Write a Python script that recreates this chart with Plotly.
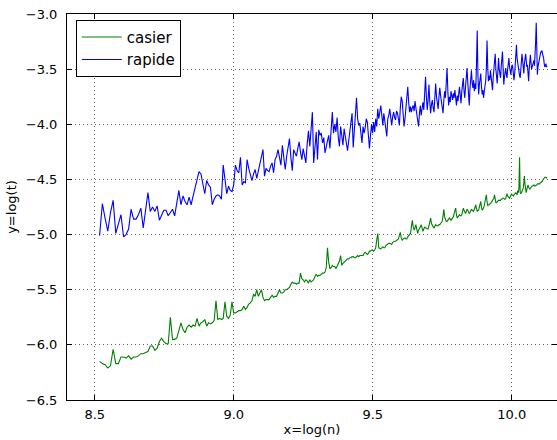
import numpy as np
import plotly.graph_objects as go

# n goes from 5000 to 25000 in steps of 50; x = log(n)
n_values = list(range(5000, 25001, 50))

casier = [
    -6.15,-6.17,-6.18,-6.21,-6.19,-6.04,-6.17,-6.17,-6.11,-6.11,
    -6.12,-6.10,-6.13,-6.11,-6.11,-6.10,-6.08,-6.08,-6.07,-6.06,
    -6.01,-6.01,-6.05,-6.03,-5.97,-5.94,-5.97,-5.99,-5.99,-5.75,
    -5.95,-5.95,-5.94,-5.88,-5.80,-5.86,-5.89,-5.84,-5.82,-5.84,
    -5.82,-5.83,-5.76,-5.83,-5.80,-5.79,-5.77,-5.83,-5.80,-5.81,
    -5.80,-5.78,-5.60,-5.77,-5.76,-5.77,-5.76,-5.61,-5.74,-5.76,
    -5.73,-5.61,-5.71,-5.71,-5.70,-5.69,-5.69,-5.68,-5.65,-5.68,
    -5.66,-5.63,-5.62,-5.60,-5.54,-5.56,-5.50,-5.56,-5.53,-5.50,
    -5.57,-5.60,-5.59,-5.59,-5.59,-5.57,-5.55,-5.57,-5.56,-5.56,
    -5.53,-5.50,-5.53,-5.53,-5.52,-5.50,-5.50,-5.49,-5.48,-5.45,
    -5.43,-5.44,-5.44,-5.45,-5.44,-5.44,-5.35,-5.40,-5.41,-5.43,
    -5.41,-5.42,-5.44,-5.41,-5.43,-5.42,-5.41,-5.38,-5.36,-5.38,
    -5.37,-5.37,-5.36,-5.35,-5.35,-5.34,-5.30,-5.12,-5.25,-5.31,
    -5.30,-5.28,-5.29,-5.29,-5.31,-5.29,-5.26,-5.24,-5.19,-5.28,
    -5.26,-5.25,-5.24,-5.23,-5.22,-5.22,-5.21,-5.21,-5.20,-5.20,
    -5.21,-5.21,-5.20,-5.19,-5.20,-5.19,-5.19,-5.19,-5.19,-5.17,
    -5.16,-5.17,-5.18,-5.17,-5.15,-5.15,-5.14,-5.14,-5.15,-5.14,
    -5.12,-5.05,-4.99,-5.12,-5.13,-5.13,-5.12,-5.11,-5.12,-5.12,
    -5.10,-5.09,-5.09,-5.08,-5.08,-5.09,-5.09,-5.07,-5.06,-5.06,
    -5.06,-5.05,-5.04,-5.04,-5.01,-4.98,-5.03,-5.05,-5.04,-5.03,
    -5.03,-5.04,-5.04,-5.02,-5.01,-5.00,-4.99,-4.93,-4.87,-4.93,
    -4.96,-4.94,-4.91,-4.95,-4.99,-4.96,-4.95,-4.93,-4.91,-4.94,
    -4.97,-4.95,-4.93,-4.94,-4.94,-4.95,-4.95,-4.92,-4.88,-4.85,
    -4.90,-4.92,-4.93,-4.94,-4.93,-4.91,-4.92,-4.92,-4.92,-4.91,
    -4.91,-4.90,-4.89,-4.88,-4.83,-4.77,-4.84,-4.87,-4.88,-4.88,
    -4.87,-4.86,-4.85,-4.86,-4.87,-4.86,-4.85,-4.84,-4.81,-4.78,
    -4.76,-4.82,-4.85,-4.84,-4.83,-4.82,-4.83,-4.83,-4.82,-4.79,
    -4.76,-4.78,-4.80,-4.81,-4.79,-4.77,-4.78,-4.80,-4.81,-4.80,
    -4.78,-4.77,-4.78,-4.79,-4.79,-4.77,-4.75,-4.73,-4.77,-4.79,
    -4.78,-4.78,-4.75,-4.72,-4.70,-4.75,-4.78,-4.77,-4.76,-4.74,
    -4.70,-4.66,-4.64,-4.70,-4.74,-4.73,-4.73,-4.72,-4.72,-4.71,
    -4.70,-4.70,-4.69,-4.67,-4.64,-4.68,-4.71,-4.71,-4.70,-4.69,
    -4.69,-4.69,-4.69,-4.69,-4.68,-4.68,-4.67,-4.67,-4.67,-4.68,
    -4.68,-4.67,-4.65,-4.63,-4.65,-4.66,-4.67,-4.67,-4.66,-4.64,
    -4.63,-4.64,-4.65,-4.65,-4.64,-4.63,-4.62,-4.62,-4.63,-4.64,
    -4.60,-4.62,-4.58,-4.30,-4.62,-4.63,-4.62,-4.61,-4.60,-4.58,
    -4.53,-4.47,-4.55,-4.60,-4.62,-4.59,-4.56,-4.55,-4.57,-4.58,
    -4.59,-4.58,-4.57,-4.57,-4.56,-4.56,-4.55,-4.55,-4.56,-4.56,
    -4.56,-4.55,-4.55,-4.54,-4.54,-4.54,-4.54,-4.54,-4.53,-4.53,
    -4.52,-4.52,-4.51,-4.50,-4.50,-4.49,-4.48,-4.48,-4.48,-4.49,
    -4.48,
]

rapide = [
    -5.01,-4.72,-4.85,-4.97,-4.80,-4.69,-4.99,-4.90,-4.82,-5.02,
    -5.00,-4.95,-4.77,-4.86,-4.86,-4.82,-4.76,-4.94,-4.78,-4.62,
    -4.79,-4.75,-4.79,-4.74,-4.87,-4.82,-4.78,-4.78,-4.83,-4.80,
    -4.77,-4.83,-4.70,-4.60,-4.73,-4.65,-4.70,-4.73,-4.66,-4.73,
    -4.65,-4.57,-4.48,-4.43,-4.45,-4.55,-4.63,-4.51,-4.55,-4.57,
    -4.73,-4.68,-4.65,-4.64,-4.65,-4.68,-4.37,-4.50,-4.63,-4.56,
    -4.60,-4.61,-4.55,-4.37,-4.42,-4.44,-4.30,-4.55,-4.52,-4.53,
    -4.32,-4.40,-4.46,-4.51,-4.45,-4.41,-4.49,-4.42,-4.37,-4.30,
    -4.23,-4.47,-4.40,-4.42,-4.43,-4.38,-4.35,-4.44,-4.32,-4.29,
    -4.23,-4.30,-4.37,-4.19,-4.32,-4.41,-4.29,-4.20,-4.13,-4.30,
    -4.42,-4.23,-4.27,-4.29,-4.22,-4.16,-4.25,-4.32,-4.22,-4.30,
    -4.35,-4.18,-4.06,-4.20,-4.02,-3.89,-4.35,-4.18,-4.07,-4.32,
    -4.05,-4.10,-4.08,-4.17,-4.12,-4.26,-4.19,-4.15,-4.10,-4.22,
    -4.05,-3.89,-4.08,-4.00,-4.07,-3.94,-4.12,-4.20,-4.02,-4.10,
    -4.19,-4.04,-4.12,-4.20,-4.24,-4.15,-4.07,-4.00,-3.90,-4.21,
    -4.05,-3.92,-3.76,-3.95,-4.01,-3.99,-4.08,-4.17,-4.02,-4.08,
    -4.03,-3.95,-3.98,-4.12,-4.22,-4.10,-4.00,-4.08,-3.98,-4.07,
    -3.95,-4.02,-3.86,-3.95,-3.90,-3.83,-3.92,-4.01,-3.90,-3.98,
    -4.05,-4.11,-3.95,-3.92,-3.86,-3.95,-4.01,-3.93,-3.89,-3.94,
    -3.96,-3.88,-3.90,-3.95,-4.01,-3.85,-3.75,-3.79,-3.92,-4.02,
    -3.95,-3.86,-3.80,-3.66,-3.80,-3.89,-3.84,-3.89,-3.85,-3.83,
    -3.88,-3.79,-3.85,-3.90,-3.96,-4.02,-3.90,-3.83,-3.92,-3.86,
    -3.80,-3.87,-3.72,-3.57,-3.75,-3.87,-3.78,-3.64,-3.80,-3.90,
    -3.82,-3.78,-3.85,-3.89,-3.76,-3.63,-3.75,-3.80,-3.86,-3.75,
    -3.67,-3.74,-3.79,-3.84,-3.90,-3.78,-3.70,-3.76,-3.62,-3.49,
    -3.70,-3.83,-3.75,-3.80,-3.70,-3.74,-3.78,-3.72,-3.76,-3.69,
    -3.75,-3.83,-3.74,-3.79,-3.72,-3.66,-3.74,-3.81,-3.70,-3.64,
    -3.58,-3.70,-3.76,-3.66,-3.58,-3.49,-3.62,-3.72,-3.83,-3.68,
    -3.60,-3.51,-3.62,-3.67,-3.60,-3.70,-3.63,-3.68,-3.45,-3.15,
    -3.55,-3.73,-3.64,-3.58,-3.54,-3.66,-3.73,-3.69,-3.76,-3.70,
    -3.65,-3.61,-3.50,-3.24,-3.48,-3.61,-3.56,-3.60,-3.51,-3.58,
    -3.64,-3.69,-3.58,-3.52,-3.45,-3.36,-3.50,-3.58,-3.63,-3.52,
    -3.40,-3.50,-3.55,-3.58,-3.48,-3.40,-3.34,-3.50,-3.64,-3.57,
    -3.53,-3.49,-3.55,-3.58,-3.50,-3.45,-3.40,-3.48,-3.52,-3.55,
    -3.50,-3.46,-3.48,-3.55,-3.60,-3.55,-3.45,-3.35,-3.28,-3.40,
    -3.45,-3.48,-3.52,-3.56,-3.58,-3.50,-3.42,-3.36,-3.42,-3.50,
    -3.54,-3.45,-3.40,-3.36,-3.42,-3.48,-3.46,-3.52,-3.61,-3.50,
    -3.42,-3.37,-3.44,-3.50,-3.48,-3.45,-3.43,-3.42,-3.47,-3.40,
    -3.25,-3.08,-3.35,-3.55,-3.48,-3.45,-3.43,-3.38,-3.36,-3.34,
    -3.35,-3.33,-3.36,-3.38,-3.40,-3.45,-3.48,-3.47,-3.45,-3.48,
    -3.47,
]

x_tick_values = [8.5, 9.0, 9.5, 10.0]
y_tick_values = [-6.5, -6.0, -5.5, -5.0, -4.5, -4.0, -3.5, -3.0]

x = np.log(np.array(n_values, dtype=float))

fig = go.Figure()
fig.add_trace(go.Scatter(
    x=x[:len(casier)], y=casier, mode="lines", name="casier",
    line=dict(color="#008000", width=1.1),
))
fig.add_trace(go.Scatter(
    x=x[:len(rapide)], y=rapide, mode="lines", name="rapide",
    line=dict(color="#0000ff", width=1.1),
))

font_family = "DejaVu Sans, Liberation Sans, sans-serif"

axis_common = dict(
    showline=True, linecolor="black", linewidth=1, mirror="ticks",
    ticks="inside", ticklen=5, tickcolor="black", tickwidth=1,
    showgrid=True, gridcolor="rgba(0,0,0,0.6)", gridwidth=1, griddash="1px,3px",
    zeroline=False, tickfont=dict(family=font_family, size=13, color="black"),
)

fig.update_layout(
    width=557, height=440,
    margin=dict(l=67, r=0, t=14, b=40, autoexpand=False),
    paper_bgcolor="white", plot_bgcolor="white",
    font=dict(family=font_family, size=13, color="black"),
    showlegend=True,
    legend=dict(
        x=0.018, y=0.985, xanchor="left", yanchor="top",
        bordercolor="black", borderwidth=1, bgcolor="white",
        itemwidth=40, tracegroupgap=0,
        font=dict(family=font_family, size=15, color="black"),
    ),
    xaxis=dict(
        range=[8.4, 10.1626], tickvals=x_tick_values,
        ticktext=[f"{v:.1f}" for v in x_tick_values],
        title=dict(text="x=log(n)", standoff=4,
                   font=dict(family=font_family, size=13, color="black")),
        ticklabelstandoff=2,
        **axis_common,
    ),
    yaxis=dict(
        range=[-6.5, -3.0], tickvals=y_tick_values,
        ticktext=[f"{v:.1f}".replace("-", "\u2212") for v in y_tick_values],
        title=dict(text="y=log(t)", standoff=6,
                   font=dict(family=font_family, size=13, color="black")),
        ticklabelstandoff=6,
        **axis_common,
    ),
)

fig.write_html("out.html")
